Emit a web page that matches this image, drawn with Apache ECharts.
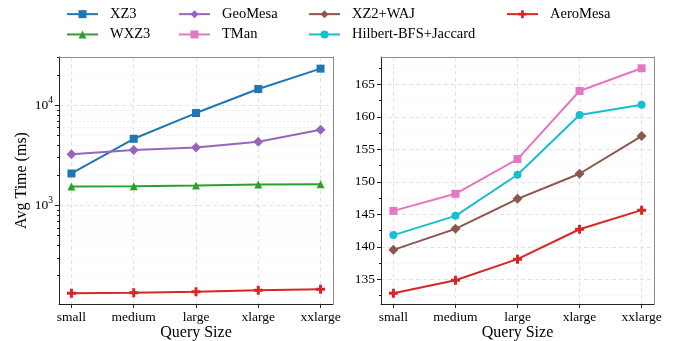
<!DOCTYPE html>
<html>
<head>
<meta charset="utf-8">
<script src="https://cdn.jsdelivr.net/npm/echarts@6/dist/echarts.min.js"></script>
<style>html,body{margin:0;padding:0;background:#fff;}#c{width:674px;height:341px;}</style>
</head>
<body>
<div id="c"></div>
<script>
const categories = ['small', 'medium', 'large', 'xlarge', 'xxlarge'];
const categoryPositions = [0, 1, 2, 3, 4];
// left panel (log scale)
const xz3 = [2090, 4640, 8380, 14560, 23270];
const wxz3 = [1549, 1560, 1585, 1622, 1634];
const geomesa = [3260, 3575, 3800, 4330, 5710];
const aeromesa = [132.85, 134.85, 138.1, 142.7, 145.64];
// right panel (linear)
const tman = [145.53, 148.15, 153.5, 163.97, 167.47];
const xz2waj = [139.53, 142.76, 147.38, 151.24, 157.04];
const hilbert = [141.8, 144.76, 151.08, 160.27, 161.87];
// ticks
const leftMajorTicks = [1000, 10000];
const leftMinorTicks = [200, 300, 400, 500, 600, 700, 800, 900, 2000, 3000, 4000, 5000, 6000, 7000, 8000, 9000, 20000, 30000];
const rightMajorTicks = [135, 140, 145, 150, 155, 160, 165];
const rightMinorTicks = [132.5, 137.5, 142.5, 147.5, 152.5, 157.5, 162.5, 167.5];

const FONT = 'Liberation Serif';
const DARK = '#222';
const GREY = '#8a8a8a';
const plusPath = 'path://M3,0H6V3H9V6H6V9H3V6H0V3H3Z';

function pts(vals) { return categoryPositions.map((x, i) => [x, vals[i]]); }

function xAxes(grid, withName) {
  return [{
    type: 'value', gridIndex: grid, position: 'bottom', min: -0.2, max: 4.2,
    name: withName ? 'Query Size' : '', nameLocation: 'middle', nameGap: 21, nameMoveOverlap: false,
    nameTextStyle: { fontFamily: FONT, fontSize: 16, color: '#000' },
    axisLine: { show: true, onZero: false, lineStyle: { color: DARK, width: 1 } },
    axisTick: { show: true, customValues: categoryPositions, length: 4, lineStyle: { color: DARK } },
    axisLabel: { show: true, customValues: categoryPositions, margin: 6,
      formatter: v => categories[Math.round(v)] || '',
      fontFamily: FONT, fontSize: 13.5, color: '#000' },
    splitLine: { show: true, lineStyle: { color: '#dcdcdc', type: [4, 3], width: 0.8 } }
  }, {
    type: 'value', gridIndex: grid, position: 'top', min: -0.2, max: 4.2,
    axisLine: { show: true, onZero: false, lineStyle: { color: GREY, width: 1 } },
    axisTick: { show: false }, axisLabel: { show: false }, splitLine: { show: false }
  }];
}

function yAxesSet(grid, type, min, max, major, minor, labelFmt, rich, withName) {
  const common = { type: type, gridIndex: grid, min: min, max: max };
  if (type === 'log') common.logBase = 10;
  return [Object.assign({}, common, {
    position: 'left',
    name: withName ? 'Avg Time (ms)' : '', nameLocation: 'middle', nameGap: 29, nameMoveOverlap: false,
    nameTextStyle: { fontFamily: FONT, fontSize: 16, color: '#000' },
    axisLine: { show: true, onZero: false, lineStyle: { color: DARK, width: 1 } },
    axisTick: { show: true, customValues: major, length: 4, lineStyle: { color: DARK } },
    axisLabel: { show: true, customValues: major, margin: 6, formatter: labelFmt, rich: rich,
      fontFamily: FONT, fontSize: 13.5, color: '#000' },
    splitLine: { show: true, lineStyle: { color: '#dcdcdc', type: [4, 3], width: 0.8 } }
  }), Object.assign({}, common, {
    position: 'left',
    axisLine: { show: false, onZero: false },
    axisTick: { show: true, customValues: minor, length: 2, lineStyle: { color: DARK } },
    axisLabel: { show: false, customValues: minor },
    splitLine: { show: true, lineStyle: { color: '#ececec', type: [2, 2], width: 0.6 } }
  }), Object.assign({}, common, {
    position: 'right',
    axisLine: { show: true, onZero: false, lineStyle: { color: GREY, width: 1 } },
    axisTick: { show: false }, axisLabel: { show: false }, splitLine: { show: false }
  })];
}

const logFmt = v => '{b|10}{s|' + Math.round(Math.log10(v)) + '}';
const logRich = {
  b: { fontFamily: FONT, fontSize: 13.5, color: '#000', lineHeight: 20 },
  s: { fontFamily: FONT, fontSize: 9.5, color: '#000', verticalAlign: 'top', lineHeight: 12 }
};

function line(name, color, symbol, size, data, xi, yi) {
  return {
    type: 'line', name: name, data: pts(data), xAxisIndex: xi, yAxisIndex: yi,
    symbol: symbol, symbolSize: size, showSymbol: true,
    lineStyle: { color: color, width: 2 },
    itemStyle: { color: color, borderWidth: 0 },
    emphasis: { disabled: true }
  };
}

function legend(left, names) {
  return {
    orient: 'vertical', left: left, top: 4, padding: 0, itemGap: 0,
    itemWidth: 31, itemHeight: 10, data: names, selectedMode: false,
    textStyle: { fontFamily: FONT, fontSize: 14.5, color: '#000', lineHeight: 20.3, padding: [0, 0, 0, 7] }
  };
}

const chart = echarts.init(document.getElementById('c'), null, { renderer: 'canvas' });
chart.setOption({
  animation: false,
  backgroundColor: '#fff',
  legend: [
    legend(66, ['XZ3', 'WXZ3']),
    legend(178, ['GeoMesa', 'TMan']),
    legend(308, ['XZ2+WAJ', 'Hilbert-BFS+Jaccard']),
    legend(506, ['AeroMesa'])
  ],
  grid: [
    { left: 59, top: 57, width: 274, height: 247, containLabel: false, outerBoundsMode: 'none' },
    { left: 381, top: 57, width: 273, height: 247, containLabel: false, outerBoundsMode: 'none' }
  ],
  xAxis: [].concat(xAxes(0, true), xAxes(1, true)),
  yAxis: [].concat(
    yAxesSet(0, 'log', 104, 30400, leftMajorTicks, leftMinorTicks, logFmt, logRich, true),
    yAxesSet(1, 'value', 131.2, 169.2, rightMajorTicks, rightMinorTicks, v => String(v), undefined, false)
  ),
  series: [
    line('XZ3', '#1f77b4', 'rect', 8, xz3, 0, 0),
    line('WXZ3', '#2ca02c', 'triangle', 8, wxz3, 0, 0),
    line('GeoMesa', '#9467bd', 'diamond', 10, geomesa, 0, 0),
    line('AeroMesa', '#d62728', plusPath, 9, aeromesa, 0, 0),
    line('TMan', '#e377c2', 'rect', 8, tman, 2, 3),
    line('XZ2+WAJ', '#8c564b', 'diamond', 10, xz2waj, 2, 3),
    line('Hilbert-BFS+Jaccard', '#17becf', 'circle', 8, hilbert, 2, 3),
    line('AeroMesa', '#d62728', plusPath, 9, aeromesa, 2, 3)
  ]
});
</script>
</body>
</html>
